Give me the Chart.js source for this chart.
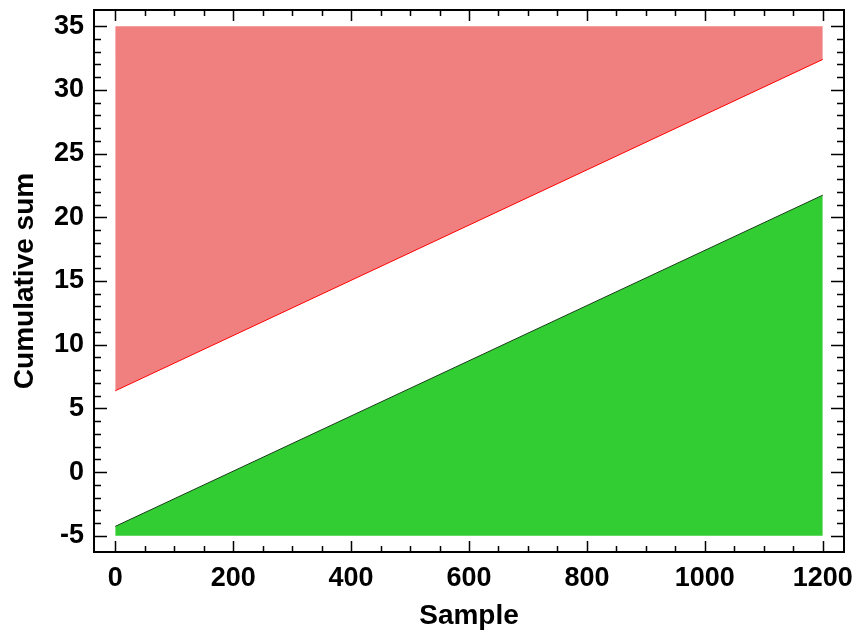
<!DOCTYPE html>
<html>
<head>
<meta charset="utf-8">
<script src="https://cdn.jsdelivr.net/npm/chart.js@4/dist/chart.umd.min.js"></script>
<style>
  html, body { margin: 0; background: #fff; }
</style>
</head>
<body>
<canvas id="chart" width="861" height="637"></canvas>
<script>
// values
const samples = [0, 1200];
const upperLine = [6.38, 32.39];
const lowerLine = [-4.26, 21.74];
const upperFillTo = 35;
const lowerFillTo = -5;
const xTicks = [0, 200, 400, 600, 800, 1000, 1200];
const yTicks = [-5, 0, 5, 10, 15, 20, 25, 30, 35];
const xMinorStep = 50;
const yMinorStep = 1;

const font = "'Liberation Sans', Arial, sans-serif";

// frame with inward ticks on all four sides
const frameTicks = {
  id: "frameTicks",
  afterDraw(chart) {
    const { ctx, chartArea: a, scales } = chart;
    const x = scales.x, y = scales.y;
    ctx.save();
    ctx.strokeStyle = "#000";
    ctx.lineWidth = 1.5;
    ctx.beginPath();

    const xFirst = xTicks[0], xLast = xTicks[xTicks.length - 1];
    for (let v = xFirst; v <= xLast; v += xMinorStep) {
      const major = xTicks.includes(v);
      const len = major ? 11 : 6;
      const px = Math.round(x.getPixelForValue(v)) + 0.5;
      ctx.moveTo(px, a.bottom);
      ctx.lineTo(px, a.bottom - len);
      ctx.moveTo(px, a.top);
      ctx.lineTo(px, a.top + len);
    }

    const yFirst = yTicks[0], yLast = yTicks[yTicks.length - 1];
    for (let v = yFirst; v <= yLast; v += yMinorStep) {
      const major = yTicks.includes(v);
      const len = major ? 13 : 7;
      const py = Math.round(y.getPixelForValue(v)) + 0.5;
      ctx.moveTo(a.left, py);
      ctx.lineTo(a.left + len, py);
      ctx.moveTo(a.right, py);
      ctx.lineTo(a.right - len, py);
    }
    ctx.stroke();

    ctx.lineWidth = 2;
    ctx.strokeRect(a.left, a.top, a.right - a.left, a.bottom - a.top);
    ctx.restore();
  },
};

new Chart(document.getElementById("chart"), {
  type: "line",
  data: {
    datasets: [
      {
        data: samples.map((s, i) => ({ x: s, y: upperLine[i] })),
        borderColor: "rgb(255, 0, 0)",
        borderWidth: 1,
        backgroundColor: "rgb(240, 128, 128)",
        fill: { value: upperFillTo },
        pointRadius: 0,
      },
      {
        data: samples.map((s, i) => ({ x: s, y: lowerLine[i] })),
        borderColor: "rgb(20, 60, 20)",
        borderWidth: 1,
        backgroundColor: "rgb(50, 205, 50)",
        fill: { value: lowerFillTo },
        pointRadius: 0,
      },
    ],
  },
  options: {
    responsive: false,
    animation: false,
    layout: { padding: { left: 0, top: 10, right: 17, bottom: 0 } },
    plugins: {
      legend: { display: false },
      tooltip: { enabled: false },
    },
    scales: {
      x: {
        type: "linear",
        min: -36,
        max: 1236,
        afterBuildTicks(scale) {
          scale.ticks = xTicks.map((v) => ({ value: v }));
        },
        afterFit(scale) {
          scale.height = 85;
          scale.paddingLeft = 0;
          scale.paddingRight = 0;
        },
        grid: { display: false, drawTicks: false },
        border: { display: false },
        ticks: {
          autoSkip: false,
          maxRotation: 0,
          padding: 10,
          color: "#000",
          font: { family: font, size: 27, weight: "bold" },
          callback: (v) => String(v),
        },
        title: {
          display: true,
          text: "Sample",
          color: "#000",
          padding: { top: 4, bottom: 4 },
          font: { family: font, size: 28, weight: "bold" },
        },
      },
      y: {
        type: "linear",
        min: -6.27,
        max: 36.27,
        afterBuildTicks(scale) {
          scale.ticks = yTicks.map((v) => ({ value: v }));
        },
        afterFit(scale) {
          scale.width = 94;
          scale.paddingTop = 0;
          scale.paddingBottom = 0;
        },
        grid: { display: false, drawTicks: false },
        border: { display: false },
        ticks: {
          padding: 10,
          color: "#000",
          font: { family: font, size: 27, weight: "bold" },
          callback: (v) => String(v),
        },
        title: {
          display: true,
          text: "Cumulative sum",
          color: "#000",
          padding: { top: 8, bottom: 4 },
          font: { family: font, size: 28, weight: "bold" },
        },
      },
    },
  },
  plugins: [frameTicks],
});
</script>
</body>
</html>
